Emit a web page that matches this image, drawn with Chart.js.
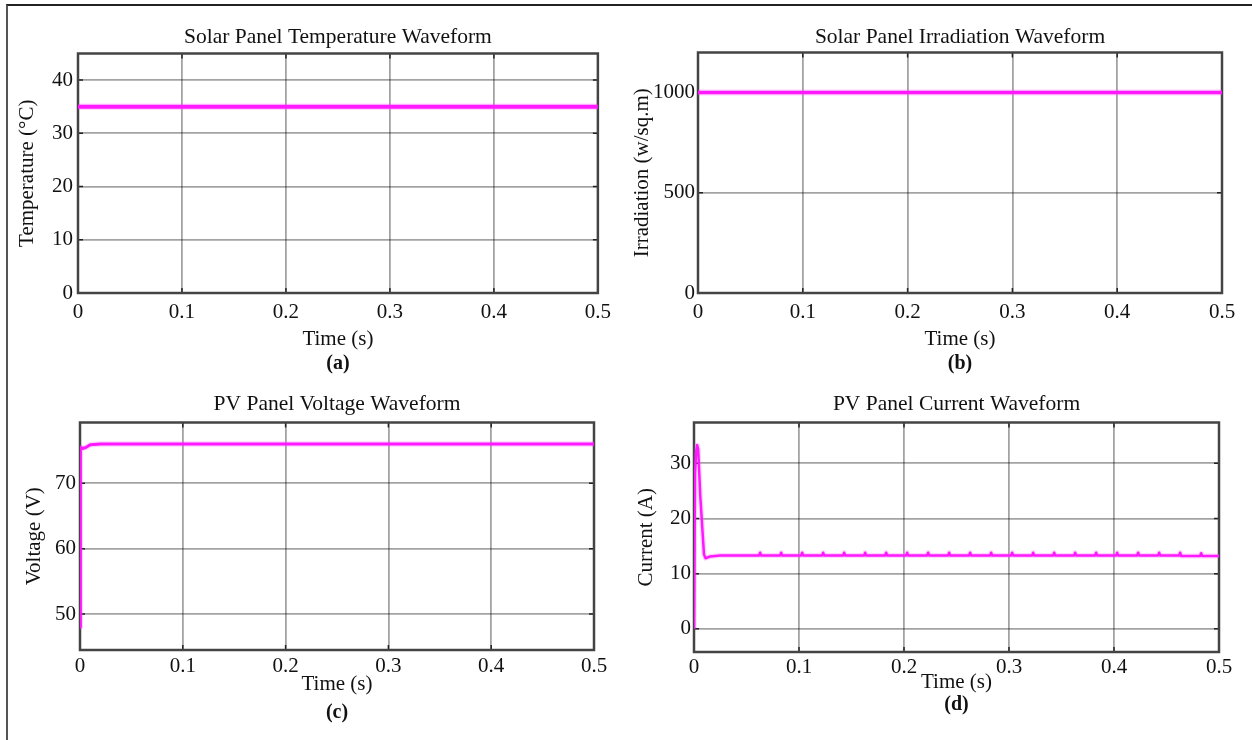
<!DOCTYPE html>
<html>
<head>
<meta charset="utf-8">
<script src="https://cdn.jsdelivr.net/npm/chart.js@4.4.0/dist/chart.umd.min.js"></script>
<style>
  body { margin: 0; background: #fff; width: 1252px; height: 740px; overflow: hidden; position: relative; }
  canvas { position: absolute; }
  #frame { position: absolute; left: 6px; top: 4px; width: 1300px; height: 800px; border-left: 2px solid #555; border-top: 2px solid #222; }
</style>
</head>
<body>
<div id="frame"></div>
<canvas id="ca" width="620" height="376" style="left:0;top:0"></canvas>
<canvas id="cb" width="632" height="376" style="left:620px;top:0"></canvas>
<canvas id="cc" width="620" height="370" style="left:0;top:370px"></canvas>
<canvas id="cd" width="632" height="370" style="left:620px;top:370px"></canvas>
<script>
// shared x axis ticks
const xTickValues = [0, 0.1, 0.2, 0.3, 0.4, 0.5];
const xTickLabels = ['0', '0.1', '0.2', '0.3', '0.4', '0.5'];

// (a) temperature
const tempTime = [0, 0.1, 0.2, 0.3, 0.4, 0.5];
const tempValues = [35, 35, 35, 35, 35, 35];
const tempTicks = [0, 10, 20, 30, 40];
const tempTickLabels = ['0', '10', '20', '30', '40'];

// (b) irradiation
const irrTime = [0, 0.1, 0.2, 0.3, 0.4, 0.5];
const irrValues = [1000, 1000, 1000, 1000, 1000, 1000];
const irrTicks = [0, 500, 1000];
const irrTickLabels = ['0', '500', '1000'];

// (c) voltage
const voltTime = [0, 0.0004, 0.001, 0.002, 0.004, 0.006, 0.008, 0.01, 0.02, 0.1, 0.2, 0.3, 0.4, 0.5];
const voltValues = [48, 75.4, 75.5, 75.3, 75.4, 75.5, 75.7, 75.9, 76, 76, 76, 76, 76, 76];
const voltTicks = [50, 60, 70];
const voltTickLabels = ['50', '60', '70'];

// (d) current
const currTime = [0, 0.001, 0.002, 0.003, 0.004, 0.006, 0.0095, 0.011, 0.015, 0.025,
  0.062, 0.063, 0.064, 0.082, 0.083, 0.084, 0.102, 0.103, 0.104, 0.122, 0.123, 0.124,
  0.142, 0.143, 0.144, 0.162, 0.163, 0.164, 0.182, 0.183, 0.184, 0.202, 0.203, 0.204,
  0.222, 0.223, 0.224, 0.242, 0.243, 0.244, 0.262, 0.263, 0.264, 0.282, 0.283, 0.284,
  0.302, 0.303, 0.304, 0.322, 0.323, 0.324, 0.342, 0.343, 0.344, 0.362, 0.363, 0.364,
  0.382, 0.383, 0.384, 0.402, 0.403, 0.404, 0.422, 0.423, 0.424, 0.442, 0.443, 0.444,
  0.462, 0.463, 0.464, 0.482, 0.483, 0.484, 0.5];
const currValues = [0, 28, 32, 33.3, 32.6, 24, 13.5, 12.8, 13.1, 13.3,
  13.3, 13.8, 13.3, 13.3, 13.8, 13.3, 13.3, 13.8, 13.3, 13.3, 13.8, 13.3,
  13.3, 13.8, 13.3, 13.3, 13.8, 13.3, 13.3, 13.8, 13.3, 13.3, 13.8, 13.3,
  13.3, 13.8, 13.3, 13.3, 13.8, 13.3, 13.3, 13.8, 13.3, 13.3, 13.8, 13.3,
  13.3, 13.8, 13.3, 13.3, 13.8, 13.3, 13.3, 13.8, 13.3, 13.3, 13.8, 13.3,
  13.3, 13.8, 13.3, 13.3, 13.8, 13.3, 13.3, 13.8, 13.3, 13.3, 13.8, 13.3,
  13.3, 13.8, 13.2, 13.2, 13.7, 13.2, 13.2];
const currTicks = [0, 10, 20, 30];
const currTickLabels = ['0', '10', '20', '30'];

const F = '"Liberation Serif", "Times New Roman", serif';
const INK = '#111';

// box around plot area with small inward ticks, like matlab scopes
// drawn before the traces so the magenta at the left edge stays on top
const boxPlugin = {
  id: 'box',
  beforeDatasetsDraw(chart) {
    const { ctx, chartArea: a, scales } = chart;
    ctx.save();
    ctx.strokeStyle = '#222';
    ctx.lineWidth = 1.5;
    ctx.beginPath();
    scales.y.ticks.forEach(t => {
      const y = scales.y.getPixelForValue(t.value);
      ctx.moveTo(a.left, y); ctx.lineTo(a.left + 5, y);
      ctx.moveTo(a.right - 5, y); ctx.lineTo(a.right, y);
    });
    scales.x.ticks.forEach(t => {
      const x = scales.x.getPixelForValue(t.value);
      ctx.moveTo(x, a.bottom); ctx.lineTo(x, a.bottom - 5);
      ctx.moveTo(x, a.top); ctx.lineTo(x, a.top + 5);
    });
    ctx.stroke();
    ctx.strokeStyle = '#444';
    ctx.lineWidth = 2.5;
    ctx.strokeRect(a.left, a.top, a.right - a.left, a.bottom - a.top);
    ctx.restore();
  }
};

function panel(id, o) {
  const pts = o.x.map((t, i) => ({ x: t, y: o.y[i] }));
  new Chart(document.getElementById(id), {
    type: 'line',
    data: {
      datasets: [
        { data: pts, borderColor: 'rgba(255,60,255,0.22)', borderWidth: o.w + 2.5, borderJoinStyle: 'round', pointRadius: 0, tension: 0 },
        { data: pts, borderColor: '#ff10ff', borderWidth: o.w, borderJoinStyle: 'round', pointRadius: 0, tension: 0 }
      ]
    },
    options: {
      responsive: false,
      animation: false,
      layout: { padding: { left: 0, right: o.padR, top: 0, bottom: o.padB } },
      plugins: {
        legend: { display: false },
        tooltip: { enabled: false },
        title: {
          display: true, text: o.title, fullSize: false, color: INK,
          font: { family: F, size: 21.5, weight: 'normal', lineHeight: 1 },
          padding: { top: o.tTop, bottom: o.tBot }
        },
        subtitle: {
          display: true, position: 'bottom', text: o.tag, fullSize: false, color: INK,
          font: { family: F, size: 20, weight: 'bold', lineHeight: 1 },
          padding: { top: o.sTop, bottom: 0 }
        }
      },
      scales: {
        x: {
          type: 'linear', min: 0, max: 0.5,
          afterFit: s => { s.height = o.xH; },
          afterBuildTicks: s => { s.ticks = xTickValues.map(v => ({ value: v })); },
          ticks: {
            autoSkip: false, maxRotation: 0, padding: o.xPad, color: INK,
            font: { family: F, size: 21, lineHeight: 1 },
            callback: (v, i) => xTickLabels[i]
          },
          grid: { color: 'rgba(0,0,0,0.36)', lineWidth: 1.8, drawTicks: false },
          border: { display: false },
          title: {
            display: true, text: 'Time (s)', color: INK,
            font: { family: F, size: 21, lineHeight: 1 },
            padding: { top: 0, bottom: 0 }
          }
        },
        y: {
          min: o.yMin, max: o.yMax,
          afterFit: s => { s.width = o.yW; },
          afterBuildTicks: s => { s.ticks = o.yTicks.map(v => ({ value: v })); },
          ticks: {
            autoSkip: false, padding: o.yPad, color: INK,
            font: { family: F, size: 21, lineHeight: 1 },
            callback: (v, i) => o.yLabels[i]
          },
          grid: { color: 'rgba(0,0,0,0.36)', lineWidth: 1.8, drawTicks: false },
          border: { display: false },
          title: {
            display: true, text: o.yTitle, color: INK,
            font: { family: F, size: 21, lineHeight: 1 },
            padding: { top: o.ytTop, bottom: 0 }
          }
        }
      }
    },
    plugins: [boxPlugin]
  });
}

panel('ca', {
  x: tempTime, y: tempValues, w: 4, yMin: 0, yMax: 45, yTicks: tempTicks, yLabels: tempTickLabels,
  title: 'Solar Panel Temperature Waveform', tag: '(a)', yTitle: 'Temperature (°C)',
  yW: 78, padR: 21, ytTop: 16.5, yPad: 5, tTop: 27, tBot: 5, xH: 57, xPad: 9, sTop: 4, padB: 2
});
panel('cb', {
  x: irrTime, y: irrValues, w: 3.5, yMin: 0, yMax: 1200, yTicks: irrTicks, yLabels: irrTickLabels,
  title: 'Solar Panel Irradiation Waveform', tag: '(b)', yTitle: 'Irradiation (w/sq.m)',
  yW: 78, padR: 30, ytTop: 11.5, yPad: 3, tTop: 27, tBot: 4, xH: 57, xPad: 9, sTop: 4, padB: 2
});
panel('cc', {
  x: voltTime, y: voltValues, w: 3, yMin: 44.5, yMax: 79.3, yTicks: voltTicks, yLabels: voltTickLabels,
  title: 'PV Panel Voltage Waveform', tag: '(c)', yTitle: 'Voltage (V)',
  yW: 80, padR: 26, ytTop: 23.5, yPad: 4, tTop: 24, tBot: 7, xH: 45, xPad: 6, sTop: 8, padB: 17
});
panel('cd', {
  x: currTime, y: currValues, w: 2.5, yMin: -4.2, yMax: 37.4, yTicks: currTicks, yLabels: currTickLabels,
  title: 'PV Panel Current Waveform', tag: '(d)', yTitle: 'Current (A)',
  yW: 74, padR: 33, ytTop: 15.5, yPad: 3, tTop: 24, tBot: 7, xH: 41, xPad: 5, sTop: 2, padB: 25
});
</script>
</body>
</html>
